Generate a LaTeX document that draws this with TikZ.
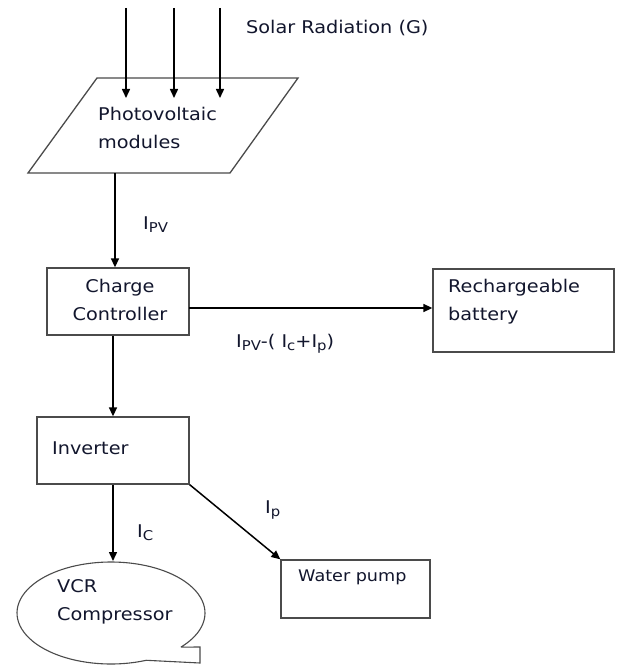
\documentclass[tikz,border=0pt]{standalone}
\usepackage{fontspec}
\setmainfont[FakeStretch=1.1]{DejaVu Sans}
\usetikzlibrary{arrows.meta}
\definecolor{txt}{RGB}{18,22,45}
\definecolor{boxc}{RGB}{75,75,75}
\newcommand\sbs[1]{{\fontsize{13.5}{13}\selectfont\raisebox{-3pt}{#1}}}
\begin{document}
\begin{tikzpicture}[x=1pt,y=-1pt,
  box/.style={draw=boxc,line width=1.3pt,inner sep=0pt},
  arr/.style={draw=black,line width=1.5pt,-{Triangle[length=9pt,width=8pt]}},
  lbl/.style={text=txt,inner sep=0pt,font=\fontsize{17.5}{28}\selectfont,align=left}]
\useasboundingbox[fill=white] (0,0) rectangle (618,666);
% parallelogram
\coordinate (p1) at (97,78);
\coordinate (p2) at (298,78);
\coordinate (p3) at (230,173);
\coordinate (p4) at (28,173);
\draw[boxc,line width=1.3pt] (p1) -- (p2) -- (p3) -- (p4) -- cycle;
\coordinate (pvb) at (115,173);
\node[lbl,anchor=west] (pvt) at (98,128) {Photovoltaic\\modules};
% solar arrows
\foreach \i/\xx in {a/126,b/174,c/220}{
  \coordinate (s\i) at (\xx,8);
  \coordinate (e\i) at (\xx,98);
  \draw[arr] (s\i) -- (e\i);
}
\node[lbl,anchor=west] (solar) at (246,28) {Solar Radiation (G)};
% charge controller
\node[box,minimum width=142pt,minimum height=67pt] (cc) at (118,301.5) {};
\node[lbl,align=center] (cct) at (120,300) {Charge\\Controller};
\draw[arr] (pvb) -- (pvb |- cc.north);
\node[lbl,anchor=west] (ipv) at (143,225) {I\sbs{PV}};
% battery
\node[box,minimum width=181pt,minimum height=83pt] (bat) at (523.5,310.5) {};
\node[lbl,anchor=west] (batt) at (448,302) {Rechargeable\\battery};
\coordinate (ccr) at (189,308);
\draw[arr] (ccr) -- (ccr -| bat.west);
\node[lbl,anchor=west] (ibat) at (236,344) {I\sbs{PV}-( I\sbs{c}+I\sbs{p})};
% inverter
\node[box,minimum width=152pt,minimum height=67pt] (inv) at (113,450.5) {};
\node[lbl,anchor=west] (invt) at (52,448) {Inverter};
\draw[arr] (inv.north |- cc.south) -- (inv.north);
% water pump
\node[box,minimum width=149pt,minimum height=58pt] (wp) at (355.5,589) {};
\node[lbl,anchor=west,font=\fontsize{16}{20}\selectfont] (wpt) at (298,577) {Water pump};
\draw[arr] (inv.south east) -- (wp.north west);
\node[lbl,anchor=west] (ip) at (265,510) {I\sbs{p}};
% VCR compressor
\draw[boxc,line width=1.1pt] plot[domain=-42:292,samples=90,smooth] ({111+94*cos(\x)},{613-51*sin(\x)})
  -- (200,663) -- (200,647) -- ({111+94*cos(-42)},{613-51*sin(-42)});
\coordinate (vcrtop) at (113,561);
\node[lbl,anchor=west] (vcrt) at (57,602) {VCR\\Compressor};
\draw[arr] (inv.south) -- (vcrtop);
\node[lbl,anchor=west] (ic) at (137,533) {I\sbs{C}};
\end{tikzpicture}
\end{document}
